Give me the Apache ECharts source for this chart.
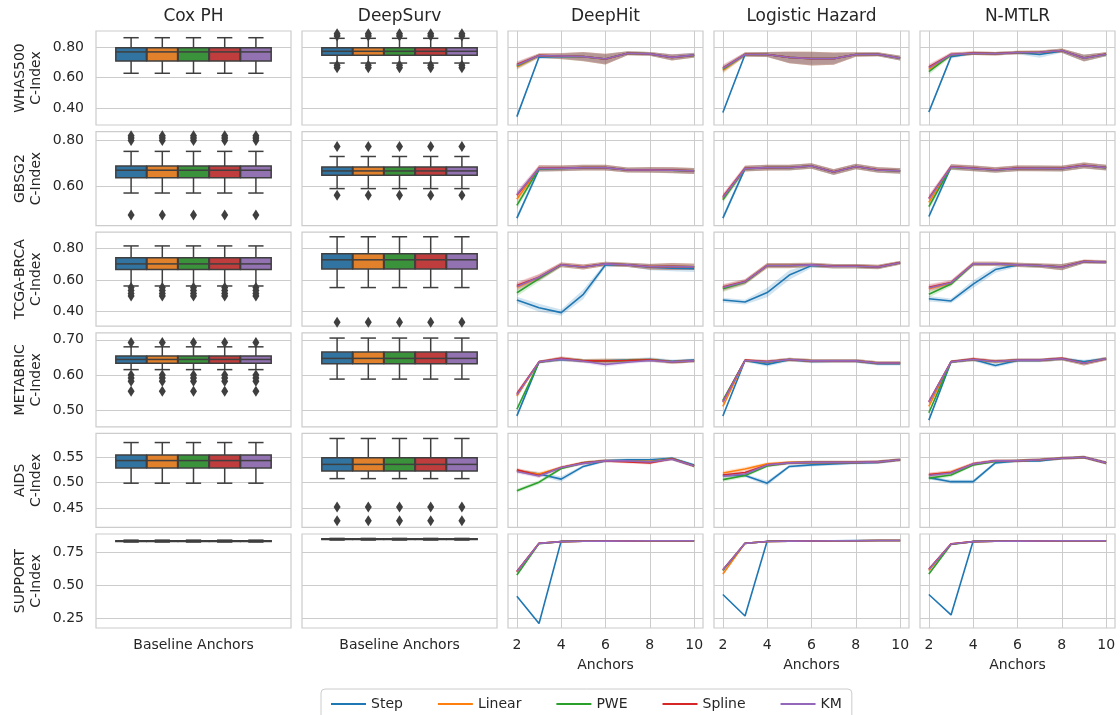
<!DOCTYPE html>
<html>
<head>
<meta charset="utf-8">
<script src="https://cdn.jsdelivr.net/npm/echarts@6/dist/echarts.min.js"></script>
<style>html,body{margin:0;padding:0;background:#fff}#c{width:1120px;height:715px}</style>
</head>
<body>
<div id="c"></div>
<script>
// ---------------- data ----------------
const datasets = ['WHAS500', 'GBSG2', 'TCGA-BRCA', 'METABRIC', 'AIDS', 'SUPPORT'];
const models = ['Cox PH', 'DeepSurv', 'DeepHit', 'Logistic Hazard', 'N-MTLR'];
const methods = ['Step', 'Linear', 'PWE', 'Spline', 'KM'];
const anchors = [2, 3, 4, 5, 6, 7, 8, 9, 10];
const xTicks = [2, 4, 6, 8, 10];
const baselineLabel = 'Baseline Anchors';
const yMin = [0.29, 0.432, 0.308, 0.452, 0.412, 0.18];
const yMax = [0.906, 0.836, 0.904, 0.72, 0.597, 0.884];
const yTicks = [[0.4, 0.6, 0.8], [0.6, 0.8], [0.4, 0.6, 0.8], [0.5, 0.6, 0.7], [0.45, 0.5, 0.55], [0.25, 0.5, 0.75]];

// boxplots: [low whisker, Q1, median, Q3, high whisker]
const whas_cox_box = [0.629, 0.709, 0.769, 0.796, 0.862]; const whas_cox_out = [];
const whas_ds_box  = [0.696, 0.747, 0.773, 0.796, 0.858]; const whas_ds_out = [0.665, 0.682, 0.873, 0.888];
const gbsg_cox_box = [0.572, 0.638, 0.670, 0.688, 0.751]; const gbsg_cox_out = [0.478, 0.798, 0.808, 0.818];
const gbsg_ds_box  = [0.591, 0.648, 0.667, 0.684, 0.729]; const gbsg_ds_out = [0.562, 0.772];
const tcga_cox_box = [0.563, 0.667, 0.703, 0.742, 0.817]; const tcga_cox_out = [0.500, 0.515, 0.535, 0.553];
const tcga_ds_box  = [0.553, 0.671, 0.729, 0.768, 0.875]; const tcga_ds_out = [0.333];
const meta_cox_box = [0.615, 0.633, 0.644, 0.654, 0.680]; const meta_cox_out = [0.692, 0.600, 0.591, 0.582, 0.553];
const meta_ds_box  = [0.588, 0.632, 0.647, 0.665, 0.705]; const meta_ds_out = [];
const aids_cox_box = [0.499, 0.529, 0.5435, 0.5545, 0.579]; const aids_cox_out = [];
const aids_ds_box  = [0.508, 0.523, 0.536, 0.549, 0.587]; const aids_ds_out = [0.452, 0.425];
const supp_cox_box = [0.824, 0.828, 0.831, 0.834, 0.838]; const supp_cox_out = [];
const supp_ds_box  = [0.839, 0.842, 0.845, 0.848, 0.851]; const supp_ds_out = [];

// line panels: mean C-index per number of anchors; ci = band half-width
const whas_dh_step   = [0.345, 0.735, 0.740, 0.738, 0.722, 0.760, 0.756, 0.734, 0.748];
const whas_dh_linear = [0.672, 0.745, 0.741, 0.738, 0.721, 0.760, 0.756, 0.732, 0.746];
const whas_dh_pwe    = [0.677, 0.745, 0.741, 0.738, 0.722, 0.760, 0.756, 0.732, 0.746];
const whas_dh_spline = [0.686, 0.746, 0.742, 0.739, 0.722, 0.760, 0.756, 0.733, 0.747];
const whas_dh_km     = [0.681, 0.745, 0.742, 0.738, 0.722, 0.760, 0.756, 0.733, 0.748];
const whas_dh_ci     = [0.022, 0.014, 0.020, 0.030, 0.035, 0.013, 0.012, 0.020, 0.015];
const whas_dh_ciStep = [0.012, 0.012, 0.015, 0.025, 0.030, 0.012, 0.012, 0.018, 0.015];

const whas_lh_step   = [0.372, 0.752, 0.752, 0.733, 0.726, 0.726, 0.752, 0.753, 0.728];
const whas_lh_linear = [0.648, 0.752, 0.752, 0.732, 0.725, 0.725, 0.752, 0.754, 0.728];
const whas_lh_pwe    = [0.655, 0.752, 0.752, 0.732, 0.725, 0.725, 0.752, 0.754, 0.728];
const whas_lh_spline = [0.664, 0.753, 0.752, 0.733, 0.725, 0.725, 0.752, 0.754, 0.729];
const whas_lh_km     = [0.660, 0.752, 0.752, 0.732, 0.725, 0.725, 0.752, 0.754, 0.728];
const whas_lh_ci     = [0.022, 0.014, 0.016, 0.038, 0.045, 0.040, 0.014, 0.013, 0.016];
const whas_lh_ciStep = [0.012, 0.012, 0.015, 0.035, 0.040, 0.035, 0.012, 0.012, 0.015];

const whas_mt_step   = [0.375, 0.738, 0.760, 0.758, 0.764, 0.752, 0.776, 0.730, 0.753];
const whas_mt_linear = [0.655, 0.750, 0.760, 0.757, 0.765, 0.767, 0.778, 0.728, 0.754];
const whas_mt_pwe    = [0.640, 0.749, 0.760, 0.757, 0.765, 0.767, 0.778, 0.728, 0.754];
const whas_mt_spline = [0.670, 0.752, 0.761, 0.758, 0.765, 0.767, 0.778, 0.729, 0.755];
const whas_mt_km     = [0.664, 0.751, 0.760, 0.757, 0.765, 0.767, 0.778, 0.728, 0.754];
const whas_mt_ci     = [0.020, 0.014, 0.012, 0.012, 0.012, 0.012, 0.014, 0.022, 0.013];
const whas_mt_ciStep = [0.015, 0.012, 0.010, 0.010, 0.010, 0.022, 0.012, 0.022, 0.012];

const gbsg_dh_step   = [0.464, 0.674, 0.678, 0.680, 0.680, 0.671, 0.671, 0.670, 0.666];
const gbsg_dh_linear = [0.545, 0.678, 0.678, 0.681, 0.681, 0.671, 0.671, 0.670, 0.667];
const gbsg_dh_pwe    = [0.519, 0.677, 0.678, 0.681, 0.681, 0.671, 0.672, 0.670, 0.667];
const gbsg_dh_spline = [0.562, 0.679, 0.679, 0.681, 0.681, 0.671, 0.672, 0.671, 0.667];
const gbsg_dh_km     = [0.566, 0.678, 0.678, 0.681, 0.681, 0.671, 0.671, 0.670, 0.667];
const gbsg_dh_ci     = [0.016, 0.013, 0.012, 0.012, 0.012, 0.011, 0.012, 0.013, 0.013];
const gbsg_dh_ciStep = [0.012, 0.011, 0.010, 0.010, 0.010, 0.010, 0.011, 0.011, 0.011];

const gbsg_lh_step   = [0.464, 0.677, 0.681, 0.681, 0.688, 0.662, 0.686, 0.671, 0.667];
const gbsg_lh_linear = [0.548, 0.677, 0.681, 0.681, 0.688, 0.662, 0.686, 0.671, 0.667];
const gbsg_lh_pwe    = [0.543, 0.677, 0.681, 0.681, 0.688, 0.662, 0.686, 0.671, 0.667];
const gbsg_lh_spline = [0.556, 0.678, 0.681, 0.682, 0.688, 0.663, 0.686, 0.672, 0.668];
const gbsg_lh_km     = [0.552, 0.677, 0.681, 0.681, 0.688, 0.662, 0.686, 0.671, 0.667];
const gbsg_lh_ci     = [0.014, 0.012, 0.012, 0.012, 0.012, 0.012, 0.012, 0.012, 0.012];
const gbsg_lh_ciStep = [0.012, 0.011, 0.011, 0.011, 0.011, 0.011, 0.011, 0.011, 0.011];

const gbsg_mt_step   = [0.471, 0.684, 0.678, 0.671, 0.678, 0.678, 0.677, 0.690, 0.681];
const gbsg_mt_linear = [0.532, 0.684, 0.678, 0.671, 0.678, 0.678, 0.677, 0.690, 0.681];
const gbsg_mt_pwe    = [0.514, 0.683, 0.678, 0.671, 0.678, 0.678, 0.677, 0.690, 0.681];
const gbsg_mt_spline = [0.550, 0.685, 0.679, 0.672, 0.679, 0.678, 0.678, 0.691, 0.682];
const gbsg_mt_km     = [0.547, 0.684, 0.678, 0.671, 0.678, 0.678, 0.677, 0.690, 0.681];
const gbsg_mt_ci     = [0.015, 0.012, 0.012, 0.012, 0.012, 0.012, 0.012, 0.013, 0.012];
const gbsg_mt_ciStep = [0.012, 0.011, 0.011, 0.011, 0.011, 0.011, 0.011, 0.011, 0.011];

const tcga_dh_step   = [0.474, 0.425, 0.394, 0.510, 0.697, 0.697, 0.682, 0.676, 0.672];
const tcga_dh_linear = [0.555, 0.617, 0.697, 0.683, 0.703, 0.697, 0.685, 0.686, 0.684];
const tcga_dh_pwe    = [0.520, 0.610, 0.696, 0.683, 0.703, 0.697, 0.685, 0.686, 0.684];
const tcga_dh_spline = [0.566, 0.619, 0.698, 0.684, 0.703, 0.697, 0.686, 0.687, 0.685];
const tcga_dh_km     = [0.560, 0.618, 0.697, 0.683, 0.703, 0.697, 0.685, 0.686, 0.684];
const tcga_dh_ci     = [0.022, 0.020, 0.015, 0.016, 0.014, 0.014, 0.018, 0.022, 0.020];
const tcga_dh_ciStep = [0.020, 0.025, 0.020, 0.030, 0.015, 0.012, 0.020, 0.020, 0.020];

const tcga_lh_step   = [0.474, 0.461, 0.521, 0.632, 0.692, 0.688, 0.688, 0.682, 0.710];
const tcga_lh_linear = [0.550, 0.589, 0.692, 0.692, 0.697, 0.688, 0.688, 0.683, 0.710];
const tcga_lh_pwe    = [0.545, 0.586, 0.692, 0.692, 0.697, 0.688, 0.688, 0.683, 0.710];
const tcga_lh_spline = [0.556, 0.591, 0.693, 0.693, 0.697, 0.689, 0.689, 0.684, 0.711];
const tcga_lh_km     = [0.553, 0.590, 0.692, 0.692, 0.697, 0.688, 0.688, 0.683, 0.710];
const tcga_lh_ci     = [0.020, 0.016, 0.016, 0.016, 0.014, 0.014, 0.014, 0.014, 0.012];
const tcga_lh_ciStep = [0.015, 0.015, 0.030, 0.030, 0.015, 0.012, 0.012, 0.012, 0.010];

const tcga_mt_step   = [0.482, 0.468, 0.575, 0.667, 0.697, 0.692, 0.683, 0.717, 0.713];
const tcga_mt_linear = [0.545, 0.581, 0.703, 0.703, 0.697, 0.692, 0.682, 0.718, 0.714];
const tcga_mt_pwe    = [0.510, 0.575, 0.702, 0.703, 0.697, 0.692, 0.682, 0.718, 0.714];
const tcga_mt_spline = [0.555, 0.585, 0.704, 0.704, 0.698, 0.693, 0.683, 0.719, 0.715];
const tcga_mt_km     = [0.550, 0.583, 0.703, 0.703, 0.697, 0.692, 0.682, 0.718, 0.714];
const tcga_mt_ci     = [0.020, 0.016, 0.014, 0.014, 0.014, 0.014, 0.020, 0.012, 0.012];
const tcga_mt_ciStep = [0.018, 0.015, 0.025, 0.020, 0.012, 0.012, 0.018, 0.010, 0.010];

const meta_dh_step   = [0.483, 0.637, 0.644, 0.640, 0.640, 0.642, 0.644, 0.639, 0.642];
const meta_dh_linear = [0.540, 0.637, 0.646, 0.640, 0.639, 0.641, 0.643, 0.637, 0.640];
const meta_dh_pwe    = [0.502, 0.636, 0.646, 0.640, 0.639, 0.641, 0.643, 0.637, 0.640];
const meta_dh_spline = [0.546, 0.637, 0.647, 0.640, 0.640, 0.641, 0.643, 0.637, 0.640];
const meta_dh_km     = [0.543, 0.637, 0.645, 0.639, 0.630, 0.636, 0.641, 0.637, 0.640];
const meta_dh_ci     = [0.008, 0.004, 0.006, 0.005, 0.007, 0.005, 0.005, 0.005, 0.005];
const meta_dh_ciStep = [0.006, 0.004, 0.005, 0.005, 0.005, 0.005, 0.006, 0.005, 0.005];

const meta_lh_step   = [0.483, 0.641, 0.630, 0.643, 0.638, 0.639, 0.639, 0.632, 0.632];
const meta_lh_linear = [0.510, 0.641, 0.637, 0.644, 0.640, 0.640, 0.640, 0.634, 0.634];
const meta_lh_pwe    = [0.527, 0.641, 0.637, 0.644, 0.640, 0.640, 0.640, 0.634, 0.634];
const meta_lh_spline = [0.524, 0.642, 0.638, 0.644, 0.640, 0.640, 0.640, 0.634, 0.634];
const meta_lh_km     = [0.522, 0.641, 0.637, 0.644, 0.640, 0.640, 0.640, 0.634, 0.634];
const meta_lh_ci     = [0.006, 0.004, 0.005, 0.005, 0.005, 0.005, 0.005, 0.005, 0.005];
const meta_lh_ciStep = [0.005, 0.004, 0.006, 0.005, 0.005, 0.005, 0.005, 0.005, 0.005];

const meta_mt_step   = [0.471, 0.637, 0.644, 0.627, 0.641, 0.641, 0.646, 0.638, 0.646];
const meta_mt_linear = [0.510, 0.637, 0.644, 0.638, 0.642, 0.642, 0.646, 0.633, 0.646];
const meta_mt_pwe    = [0.492, 0.637, 0.644, 0.638, 0.642, 0.642, 0.646, 0.633, 0.646];
const meta_mt_spline = [0.524, 0.638, 0.645, 0.639, 0.642, 0.642, 0.647, 0.633, 0.646];
const meta_mt_km     = [0.522, 0.637, 0.644, 0.638, 0.642, 0.642, 0.646, 0.633, 0.646];
const meta_mt_ci     = [0.006, 0.004, 0.005, 0.005, 0.005, 0.005, 0.005, 0.006, 0.005];
const meta_mt_ciStep = [0.005, 0.004, 0.005, 0.006, 0.005, 0.005, 0.005, 0.005, 0.005];

const aids_dh_step   = [0.5235, 0.517, 0.507, 0.532, 0.543, 0.545, 0.545, 0.548, 0.535];
const aids_dh_linear = [0.5235, 0.517, 0.530, 0.539, 0.543, 0.543, 0.542, 0.547, 0.533];
const aids_dh_pwe    = [0.484, 0.501, 0.528, 0.539, 0.543, 0.543, 0.541, 0.547, 0.533];
const aids_dh_spline = [0.5255, 0.514, 0.530, 0.539, 0.543, 0.541, 0.539, 0.547, 0.533];
const aids_dh_km     = [0.522, 0.513, 0.530, 0.538, 0.543, 0.543, 0.541, 0.546, 0.533];
const aids_dh_ci     = [0.004, 0.004, 0.003, 0.003, 0.003, 0.003, 0.003, 0.003, 0.003];
const aids_dh_ciStep = [0.003, 0.004, 0.005, 0.003, 0.003, 0.003, 0.003, 0.003, 0.003];

const aids_lh_step   = [0.514, 0.514, 0.499, 0.532, 0.535, 0.537, 0.539, 0.540, 0.545];
const aids_lh_linear = [0.519, 0.527, 0.537, 0.540, 0.540, 0.540, 0.540, 0.541, 0.545];
const aids_lh_pwe    = [0.506, 0.514, 0.533, 0.539, 0.540, 0.540, 0.540, 0.541, 0.545];
const aids_lh_spline = [0.515, 0.520, 0.535, 0.539, 0.540, 0.540, 0.540, 0.541, 0.545];
const aids_lh_km     = [0.513, 0.517, 0.535, 0.539, 0.540, 0.540, 0.540, 0.541, 0.545];
const aids_lh_ci     = [0.004, 0.004, 0.003, 0.003, 0.003, 0.003, 0.003, 0.003, 0.003];
const aids_lh_ciStep = [0.003, 0.003, 0.005, 0.003, 0.003, 0.003, 0.003, 0.003, 0.003];

const aids_mt_step   = [0.510, 0.502, 0.502, 0.539, 0.543, 0.543, 0.548, 0.550, 0.539];
const aids_mt_linear = [0.515, 0.521, 0.537, 0.543, 0.543, 0.545, 0.548, 0.550, 0.539];
const aids_mt_pwe    = [0.509, 0.515, 0.535, 0.542, 0.543, 0.545, 0.548, 0.550, 0.539];
const aids_mt_spline = [0.516, 0.520, 0.537, 0.543, 0.543, 0.545, 0.548, 0.550, 0.539];
const aids_mt_km     = [0.514, 0.519, 0.537, 0.543, 0.543, 0.545, 0.548, 0.550, 0.539];
const aids_mt_ci     = [0.004, 0.004, 0.003, 0.003, 0.003, 0.003, 0.003, 0.003, 0.003];
const aids_mt_ciStep = [0.003, 0.004, 0.004, 0.003, 0.003, 0.003, 0.003, 0.003, 0.003];

const supp_dh_step   = [0.418, 0.214, 0.832, 0.832, 0.832, 0.833, 0.833, 0.834, 0.834];
const supp_dh_linear = [0.600, 0.814, 0.827, 0.830, 0.831, 0.832, 0.833, 0.833, 0.834];
const supp_dh_pwe    = [0.577, 0.812, 0.827, 0.830, 0.831, 0.832, 0.833, 0.833, 0.834];
const supp_dh_spline = [0.605, 0.815, 0.827, 0.830, 0.831, 0.832, 0.833, 0.833, 0.834];
const supp_dh_km     = [0.602, 0.814, 0.827, 0.830, 0.831, 0.832, 0.833, 0.833, 0.834];
const supp_dh_ci     = [0.010, 0.003, 0.002, 0.002, 0.002, 0.002, 0.002, 0.002, 0.002];
const supp_dh_ciStep = [0.004, 0.004, 0.002, 0.002, 0.002, 0.002, 0.002, 0.002, 0.002];

const supp_lh_step   = [0.431, 0.270, 0.832, 0.833, 0.834, 0.834, 0.835, 0.835, 0.835];
const supp_lh_linear = [0.584, 0.814, 0.828, 0.831, 0.832, 0.833, 0.834, 0.835, 0.835];
const supp_lh_pwe    = [0.610, 0.814, 0.828, 0.831, 0.832, 0.833, 0.834, 0.835, 0.835];
const supp_lh_spline = [0.617, 0.815, 0.828, 0.831, 0.832, 0.833, 0.834, 0.835, 0.835];
const supp_lh_km     = [0.615, 0.814, 0.828, 0.831, 0.832, 0.833, 0.834, 0.835, 0.835];
const supp_lh_ci     = [0.010, 0.003, 0.002, 0.002, 0.002, 0.002, 0.002, 0.002, 0.002];
const supp_lh_ciStep = [0.004, 0.004, 0.002, 0.002, 0.002, 0.002, 0.002, 0.002, 0.002];

const supp_mt_step   = [0.431, 0.278, 0.832, 0.832, 0.833, 0.833, 0.834, 0.834, 0.834];
const supp_mt_linear = [0.610, 0.809, 0.827, 0.830, 0.831, 0.832, 0.833, 0.834, 0.834];
const supp_mt_pwe    = [0.584, 0.805, 0.827, 0.830, 0.831, 0.832, 0.833, 0.834, 0.834];
const supp_mt_spline = [0.622, 0.810, 0.827, 0.830, 0.831, 0.832, 0.833, 0.834, 0.834];
const supp_mt_km     = [0.618, 0.809, 0.827, 0.830, 0.831, 0.832, 0.833, 0.834, 0.834];
const supp_mt_ci     = [0.010, 0.003, 0.002, 0.002, 0.002, 0.002, 0.002, 0.002, 0.002];
const supp_mt_ciStep = [0.004, 0.004, 0.002, 0.002, 0.002, 0.002, 0.002, 0.002, 0.002];

// ---------------- lookup tables ----------------
const boxTable = [
  [[whas_cox_box, whas_cox_out], [whas_ds_box, whas_ds_out]],
  [[gbsg_cox_box, gbsg_cox_out], [gbsg_ds_box, gbsg_ds_out]],
  [[tcga_cox_box, tcga_cox_out], [tcga_ds_box, tcga_ds_out]],
  [[meta_cox_box, meta_cox_out], [meta_ds_box, meta_ds_out]],
  [[aids_cox_box, aids_cox_out], [aids_ds_box, aids_ds_out]],
  [[supp_cox_box, supp_cox_out], [supp_ds_box, supp_ds_out]]
];
const lineTable = [
  [[[whas_dh_step, whas_dh_linear, whas_dh_pwe, whas_dh_spline, whas_dh_km], whas_dh_ciStep, whas_dh_ci],
   [[whas_lh_step, whas_lh_linear, whas_lh_pwe, whas_lh_spline, whas_lh_km], whas_lh_ciStep, whas_lh_ci],
   [[whas_mt_step, whas_mt_linear, whas_mt_pwe, whas_mt_spline, whas_mt_km], whas_mt_ciStep, whas_mt_ci]],
  [[[gbsg_dh_step, gbsg_dh_linear, gbsg_dh_pwe, gbsg_dh_spline, gbsg_dh_km], gbsg_dh_ciStep, gbsg_dh_ci],
   [[gbsg_lh_step, gbsg_lh_linear, gbsg_lh_pwe, gbsg_lh_spline, gbsg_lh_km], gbsg_lh_ciStep, gbsg_lh_ci],
   [[gbsg_mt_step, gbsg_mt_linear, gbsg_mt_pwe, gbsg_mt_spline, gbsg_mt_km], gbsg_mt_ciStep, gbsg_mt_ci]],
  [[[tcga_dh_step, tcga_dh_linear, tcga_dh_pwe, tcga_dh_spline, tcga_dh_km], tcga_dh_ciStep, tcga_dh_ci],
   [[tcga_lh_step, tcga_lh_linear, tcga_lh_pwe, tcga_lh_spline, tcga_lh_km], tcga_lh_ciStep, tcga_lh_ci],
   [[tcga_mt_step, tcga_mt_linear, tcga_mt_pwe, tcga_mt_spline, tcga_mt_km], tcga_mt_ciStep, tcga_mt_ci]],
  [[[meta_dh_step, meta_dh_linear, meta_dh_pwe, meta_dh_spline, meta_dh_km], meta_dh_ciStep, meta_dh_ci],
   [[meta_lh_step, meta_lh_linear, meta_lh_pwe, meta_lh_spline, meta_lh_km], meta_lh_ciStep, meta_lh_ci],
   [[meta_mt_step, meta_mt_linear, meta_mt_pwe, meta_mt_spline, meta_mt_km], meta_mt_ciStep, meta_mt_ci]],
  [[[aids_dh_step, aids_dh_linear, aids_dh_pwe, aids_dh_spline, aids_dh_km], aids_dh_ciStep, aids_dh_ci],
   [[aids_lh_step, aids_lh_linear, aids_lh_pwe, aids_lh_spline, aids_lh_km], aids_lh_ciStep, aids_lh_ci],
   [[aids_mt_step, aids_mt_linear, aids_mt_pwe, aids_mt_spline, aids_mt_km], aids_mt_ciStep, aids_mt_ci]],
  [[[supp_dh_step, supp_dh_linear, supp_dh_pwe, supp_dh_spline, supp_dh_km], supp_dh_ciStep, supp_dh_ci],
   [[supp_lh_step, supp_lh_linear, supp_lh_pwe, supp_lh_spline, supp_lh_km], supp_lh_ciStep, supp_lh_ci],
   [[supp_mt_step, supp_mt_linear, supp_mt_pwe, supp_mt_spline, supp_mt_km], supp_mt_ciStep, supp_mt_ci]]
];

// ---------------- style / layout ----------------
const FONT = 'DejaVu Sans';
const TXT = '#262626';
const GRIDC = '#cccccc';
const EDGE = '#3f3f3f';
const lineColors = ['#1f77b4', '#ff7f0e', '#2ca02c', '#d62728', '#9467bd'];
const boxColors = ['#3274a1', '#e1812c', '#3a923a', '#c03d3e', '#9372b2'];
const colLeft = [96, 302, 508, 714, 920];
const PW = 195, PH = 94, TOP0 = 31, PITCH = 100.6;

const grid = [], xAxis = [], yAxis = [], series = [], graphic = [];
const lblStyle = { fontSize: 14, color: TXT, fontFamily: FONT };

function renderBox(params, api) {
  const i = api.value(0);
  const lo = api.coord([i, api.value(1)]);
  const q1 = api.coord([i, api.value(2)]);
  const med = api.coord([i, api.value(3)]);
  const q3 = api.coord([i, api.value(4)]);
  const hi = api.coord([i, api.value(5)]);
  const bw = api.size([1, 0])[0] * 0.98;
  const x = q1[0], half = bw / 2, cap = bw / 4;
  const ls = { stroke: EDGE, lineWidth: 1.5 };
  return { type: 'group', children: [
    { type: 'line', shape: { x1: x, y1: hi[1], x2: x, y2: q3[1] }, style: ls },
    { type: 'line', shape: { x1: x, y1: q1[1], x2: x, y2: lo[1] }, style: ls },
    { type: 'line', shape: { x1: x - cap, y1: hi[1], x2: x + cap, y2: hi[1] }, style: ls },
    { type: 'line', shape: { x1: x - cap, y1: lo[1], x2: x + cap, y2: lo[1] }, style: ls },
    { type: 'rect', shape: { x: x - half, y: q3[1], width: bw, height: q1[1] - q3[1] },
      style: { fill: boxColors[params.dataIndex], stroke: EDGE, lineWidth: 1.5 } },
    { type: 'line', shape: { x1: x - half, y1: med[1], x2: x + half, y2: med[1] }, style: ls }
  ]};
}

models.forEach((md, c) => {
  graphic.push({ type: 'text', x: colLeft[c] + PW / 2, y: 17,
    style: { text: md, fill: TXT, font: '17px "DejaVu Sans"', align: 'center', verticalAlign: 'middle',
             textAlign: 'center', textVerticalAlign: 'middle' } });
});

datasets.forEach((ds, r) => {
  const top = TOP0 + r * PITCH;
  const isBottom = r === datasets.length - 1;
  models.forEach((md, c) => {
    const gi = grid.length;
    grid.push({ left: colLeft[c], top: top, width: PW, height: PH, show: true,
      borderColor: GRIDC, borderWidth: 1.2, backgroundColor: 'transparent', containLabel: false });
    const xi = xAxis.length;
    if (c < 2) {
      xAxis.push({ gridIndex: gi, type: 'category', data: [baselineLabel],
        axisLine: { show: false }, axisTick: { show: false }, splitLine: { show: false },
        axisLabel: Object.assign({ show: isBottom, margin: 10 }, lblStyle) });
    } else {
      xAxis.push({ gridIndex: gi, type: 'value', min: 1.6, max: 10.4,
        axisLine: { show: false }, axisTick: { show: false, customValues: xTicks },
        splitLine: { show: true, lineStyle: { color: GRIDC, width: 1 } },
        axisLabel: Object.assign({ show: isBottom, margin: 10, customValues: xTicks }, lblStyle),
        name: isBottom ? 'Anchors' : '', nameLocation: 'middle', nameGap: 30, nameTextStyle: lblStyle });
    }
    const yi = yAxis.length;
    yAxis.push({ gridIndex: gi, type: 'value', min: yMin[r], max: yMax[r],
      axisLine: { show: false }, axisTick: { show: false, customValues: yTicks[r] },
      splitLine: { show: true, lineStyle: { color: GRIDC, width: 1 } },
      axisLabel: Object.assign({ show: c === 0, margin: 12, customValues: yTicks[r],
        formatter: v => Number(v).toFixed(2) }, lblStyle),
      name: c === 0 ? ds + '\nC-Index' : '', nameLocation: 'middle', nameRotate: 90, nameGap: 52,
      nameTextStyle: Object.assign({ lineHeight: 16 }, lblStyle) });

    if (c < 2) {
      // inner grid for the dodged boxes
      const gj = grid.length;
      grid.push({ left: colLeft[c] + 0.1 * PW, top: top, width: 0.8 * PW, height: PH, show: false, containLabel: false });
      const bxi = xAxis.length;
      xAxis.push({ gridIndex: gj, type: 'category', data: methods, show: false, boundaryGap: true });
      const byi = yAxis.length;
      yAxis.push({ gridIndex: gj, type: 'value', min: yMin[r], max: yMax[r], show: false });
      const [box, outs] = boxTable[r][c];
      series.push({ type: 'custom', name: 'box', xAxisIndex: bxi, yAxisIndex: byi, silent: true, z: 3,
        renderItem: renderBox, encode: { x: 0, y: [1, 2, 3, 4, 5] },
        data: methods.map((m, i) => [i].concat(box)) });
      const flier = [];
      methods.forEach((m, i) => outs.forEach(v => flier.push([i, v])));
      if (flier.length) {
        series.push({ type: 'scatter', name: 'outliers', xAxisIndex: bxi, yAxisIndex: byi, silent: true, z: 4,
          symbol: 'diamond', symbolSize: [7, 11], itemStyle: { color: EDGE, opacity: 1 }, data: flier });
      }
    } else {
      const [means, ciStep, ci] = lineTable[r][c - 2];
      // confidence bands: value stored first so the stack runs along y
      methods.forEach((m, k) => {
        const band = k === 0 ? ciStep : ci;
        const st = 'band_' + gi + '_' + k;
        series.push({ type: 'line', name: '_lo', xAxisIndex: xi, yAxisIndex: yi, stack: st, silent: true, z: 1,
          symbol: 'none', lineStyle: { opacity: 0 }, encode: { x: 1, y: 0 },
          data: anchors.map((a, i) => [means[k][i] - band[i], a]) });
        series.push({ type: 'line', name: '_band', xAxisIndex: xi, yAxisIndex: yi, stack: st, silent: true, z: 1,
          symbol: 'none', lineStyle: { opacity: 0 }, areaStyle: { color: lineColors[k], opacity: 0.2 },
          encode: { x: 1, y: 0 },
          data: anchors.map((a, i) => [2 * band[i], a]) });
      });
      methods.forEach((m, k) => {
        series.push({ type: 'line', name: m, xAxisIndex: xi, yAxisIndex: yi, silent: true, z: 2,
          symbol: 'none', color: lineColors[k], itemStyle: { color: lineColors[k] },
          lineStyle: { color: lineColors[k], width: 1.6 },
          data: anchors.map((a, i) => [a, means[k][i]]) });
      });
    }
  });
});

const chart = echarts.init(document.getElementById('c'), null, { renderer: 'canvas' });
chart.setOption({
  backgroundColor: '#ffffff',
  animation: false,
  textStyle: { fontFamily: FONT },
  grid, xAxis, yAxis, series, graphic,
  legend: {
    data: methods, top: 689, left: 321, icon: 'rect', itemWidth: 35, itemHeight: 2, itemGap: 35,
    textStyle: { fontSize: 14, color: TXT, fontFamily: FONT },
    borderColor: GRIDC, borderWidth: 1, borderRadius: 4, padding: [8, 10], backgroundColor: '#ffffff',
    selectedMode: false
  }
});
</script>
</body>
</html>
